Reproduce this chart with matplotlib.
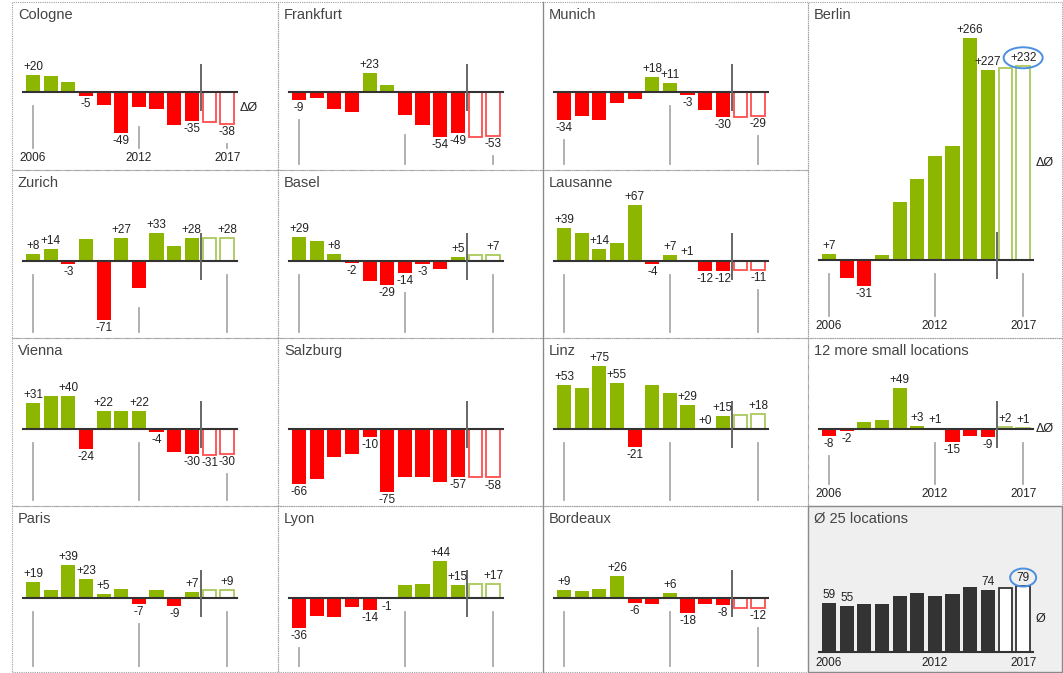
import matplotlib.pyplot as plt
from matplotlib.patches import Rectangle, Ellipse

plt.rcParams['font.family'] = ['Liberation Sans', 'DejaVu Sans']

years = list(range(2006, 2018))

cologne = [20, 19, 12, -5, -16, -49, -18, -20, -40, -35, -36, -38]
cologne_lbl = [2006, 2009, 2011, 2015, 2017]
frankfurt = [-9, -7, -20, -24, 23, 8, -28, -39, -54, -49, -54, -53]
frankfurt_lbl = [2006, 2010, 2014, 2015, 2017]
munich = [-34, -29, -33, -13, -8, 18, 11, -3, -22, -30, -30, -29]
munich_lbl = [2006, 2011, 2012, 2013, 2015, 2017]
berlin = [7, -22, -31, 6, 69, 97, 124, 137, 266, 227, 230, 232]
berlin_lbl = [2006, 2008, 2014, 2015, 2017]
zurich = [8, 14, -3, 26, -71, 27, -32, 33, 18, 28, 27, 28]
zurich_lbl = [2006, 2007, 2008, 2010, 2011, 2013, 2015, 2017]
basel = [29, 24, 8, -2, -24, -29, -14, -3, -9, 5, 7, 7]
basel_lbl = [2006, 2008, 2009, 2011, 2012, 2013, 2015, 2017]
lausanne = [39, 34, 14, 22, 67, -4, 7, 1, -12, -12, -11, -11]
lausanne_lbl = [2006, 2008, 2010, 2011, 2012, 2013, 2014, 2015, 2017]
vienna = [31, 39, 40, -24, 22, 22, 22, -4, -27, -30, -31, -30]
vienna_lbl = [2006, 2008, 2009, 2010, 2012, 2013, 2015, 2016, 2017]
salzburg = [-66, -60, -33, -30, -10, -75, -57, -57, -63, -57, -58, -58]
salzburg_lbl = [2006, 2010, 2011, 2015, 2017]
linz = [53, 49, 75, 55, -21, 53, 43, 29, 0.4, 15, 17, 18]
linz_lbl = [2006, 2008, 2009, 2010, 2013, 2014, 2015, 2017]
small12 = [-8, -2, 8, 11, 49, 3, 1, -15, -8, -9, 2, 1]
small12_lbl = [2006, 2007, 2010, 2011, 2012, 2013, 2015, 2016, 2017]
paris = [19, 10, 39, 23, 5, 11, -7, 10, -9, 7, 9, 9]
paris_lbl = [2006, 2008, 2009, 2010, 2012, 2014, 2015, 2017]
lyon = [-36, -21, -23, -11, -14, -1, 15, 17, 44, 15, 17, 17]
lyon_lbl = [2006, 2010, 2011, 2014, 2015, 2017]
bordeaux = [9, 8, 11, 26, -6, -7, 6, -18, -7, -8, -12, -12]
bordeaux_lbl = [2006, 2009, 2010, 2012, 2013, 2015, 2017]
avg25 = [59, 55, 58, 57, 67, 71, 67, 69, 78, 74, 77, 79]
avg25_lbl = [2006, 2007, 2015, 2017]

W, H = 1063, 673
col_x = [12, 278, 543, 808, 1062]
row_y = [2, 170, 338, 506, 672]
row_base = [90, 91, 91, 92]
PX = 0.835      # pixels per unit
PITCH = 17.65   # pixels per year
FIRST = 21      # pixels from panel edge to first bar centre

GREEN, RED, DARK = '#8db600', '#ff0000', '#333333'
EDGE = {GREEN: '#a9c95a', RED: '#ff4d4d', DARK: '#333333'}

fig = plt.figure(figsize=(W / 100, H / 100), dpi=100)


def panel(name, vals, labelled, col, row, nrows=1, base=None, years_shown=False,
          delta=None, ring=None, avg=False):
    x0, x1 = col_x[col], col_x[col + 1]
    y0, y1 = row_y[row], row_y[row + nrows]
    w, h = x1 - x0, y1 - y0
    if base is None:
        base = row_base[row] - (row_y[row] - y0)
    ax = fig.add_axes([x0 / W, 1 - y1 / H, w / W, h / H])
    ax.set_xlim(2006 - FIRST / PITCH, 2006 + (w - FIRST) / PITCH)
    ax.set_ylim(-(h - base) / PX, base / PX)
    ax.axis('off')

    if avg:
        ax.add_patch(Rectangle((0, 0), 1, 1, transform=ax.transAxes, facecolor='#efefef',
                               edgecolor='#8a8a8a', lw=1, zorder=0, clip_on=False))
    else:
        ax.add_patch(Rectangle((0, 0), 1, 1, transform=ax.transAxes, fill=False,
                               edgecolor='#a0a0a0', lw=0.8, ls=(0, (1, 1)), zorder=0,
                               clip_on=False))
    ax.text(6 / w, 1 - 6 / h, name, transform=ax.transAxes, ha='left', va='top',
            fontsize=10.5, color='#444444')

    for yr, v in zip(years, vals):
        c = DARK if avg else (GREEN if v >= 0 else RED)
        if yr >= 2016:
            ax.bar(yr, v, 0.78, facecolor='white', edgecolor=EDGE[c], lw=1.3, zorder=2)
        else:
            ax.bar(yr, v, 0.8, color=c, zorder=2)

    ax.plot([2005.45, 2017.55], [0, 0], color='#333333', lw=1.5, zorder=3)

    if not avg:
        ax.plot([2015.5, 2015.5], [-21, 32], color='#666666', lw=1.4, zorder=4)
        end = -(h - base - (22 if years_shown else 6)) / PX
        for yr in (2006, 2012, 2017):
            v = vals[years.index(yr)]
            start = -14 / PX if v >= 0 else v - 20 / PX
            if start - end > 4 / PX:
                ax.plot([yr, yr], [start, end], color='#aaaaaa', lw=1.3, zorder=1)

    if years_shown:
        gap = 9 if avg else 12
        for yr in (2006, 2012, 2017):
            ax.text(yr, -(h - base - gap) / PX, str(yr), ha='center', va='center',
                    fontsize=8.5, color='#222222')

    for yr in labelled:
        v = vals[years.index(yr)]
        txt = f'{v:.0f}' if avg else f'{v:+.0f}'
        ax.annotate(txt, (yr, v), xytext=(0, 1.5 if v >= 0 else -1.5),
                    textcoords='offset points', ha='center',
                    va='bottom' if v >= 0 else 'top', fontsize=8.5, color='#222222',
                    zorder=5)

    if delta:
        ax.annotate(delta, (2017.4, vals[-1] / 2), xytext=(4, 0), textcoords='offset points',
                    ha='left', va='center', fontsize=9, color='#222222')

    if ring:
        rw, rh = ring
        ax.add_patch(Ellipse((2017, vals[-1] + 8.5 / PX), rw / PITCH, rh / PX, fill=False,
                             edgecolor='#4a8fe0', lw=1.4, zorder=6, clip_on=False))


panel('Cologne', cologne, cologne_lbl, 0, 0, years_shown=True, delta='ΔØ')
panel('Frankfurt', frankfurt, frankfurt_lbl, 1, 0)
panel('Munich', munich, munich_lbl, 2, 0)
panel('Berlin', berlin, berlin_lbl, 3, 0, nrows=2, base=258, years_shown=True,
      delta='ΔØ', ring=(39, 21))
panel('Zurich', zurich, zurich_lbl, 0, 1)
panel('Basel', basel, basel_lbl, 1, 1)
panel('Lausanne', lausanne, lausanne_lbl, 2, 1)
panel('Vienna', vienna, vienna_lbl, 0, 2)
panel('Salzburg', salzburg, salzburg_lbl, 1, 2)
panel('Linz', linz, linz_lbl, 2, 2)
panel('12 more small locations', small12, small12_lbl, 3, 2, years_shown=True, delta='ΔØ')
panel('Paris', paris, paris_lbl, 0, 3)
panel('Lyon', lyon, lyon_lbl, 1, 3)
panel('Bordeaux', bordeaux, bordeaux_lbl, 2, 3)
panel('Ø 25 locations', avg25, avg25_lbl, 3, 3, base=146, years_shown=True,
      delta='Ø', ring=(26, 18), avg=True)

# darker divider between the second and third column
fig.add_artist(plt.Line2D([col_x[2] / W] * 2, [1 - row_y[4] / H, 1 - row_y[0] / H],
                          color='#8a8a8a', lw=0.9))

fig.savefig('out.png', dpi=100)
